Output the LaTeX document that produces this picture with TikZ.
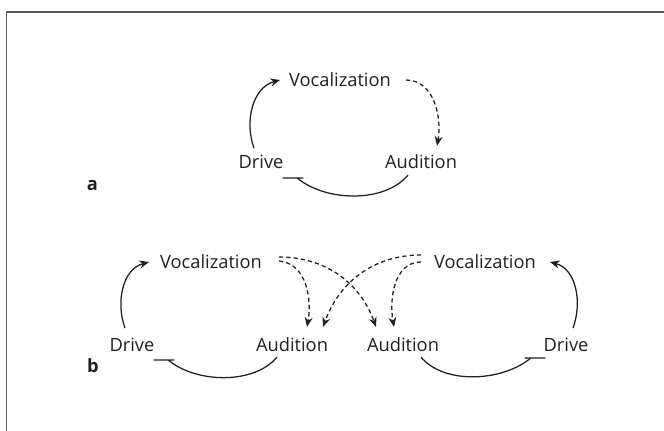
\documentclass[tikz,border=0pt]{standalone}
\usepackage{fontspec}
\setmainfont{Open Sans}
\usetikzlibrary{arrows.meta,positioning,calc}
\definecolor{inkgray}{HTML}{231F20}
\definecolor{framegray}{HTML}{5A5A5A}

\begin{document}
\begin{tikzpicture}[x=0.025cm,y=0.025cm,
  var/.style={inner sep=2pt,font=\fontsize{13}{15}\selectfont,text=inkgray},
  lbl/.style={anchor=base,font=\fontsize{13}{15}\selectfont\bfseries,text=inkgray},
  act/.style={draw=inkgray,line width=0.9pt,-{Stealth[length=2.4mm,width=2mm]}},
  fb/.style={act,dash pattern=on 3pt off 2.2pt},
  inh/.style={draw=inkgray,line width=0.9pt}
]
\useasboundingbox (0,0) rectangle (664,431);

% ---- Frame ---------------------------------------------------
\draw[framegray,line width=1.4pt] (6.5,0) -- (6.5,419) -- (664,419);

% ---- Panel a -------------------------------------------------
\node[var] (vocA)   at (340,351) {Vocalization};
\node[var] (driveA) at (261,269) {Drive};
\node[var] (audA)   at (421,269) {Audition};
\node[lbl] (labA)   at (92.5,240) {a};

\draw[act] ([xshift=-1.75mm,yshift=1mm]driveA.north) to[out=110,in=195] ([xshift=-1.5mm]vocA.west);
\draw[fb] ([xshift=3mm]vocA.east) to[out=0,in=80] ([xshift=4mm,yshift=1.5mm]audA.north);
\coordinate (barA) at ([xshift=8mm,yshift=-1.5mm]driveA.south);
\draw[inh] ([xshift=-3.25mm,yshift=-0.75mm]audA.south) to[out=-130,in=-40,looseness=0.85] ([xshift=1mm]barA)
  (barA) ++(-2.6mm,0) -- ++(5.2mm,0);

% ---- Panel b -------------------------------------------------
\node[var] (vocBL)   at (211,169) {Vocalization};
\node[var] (driveBL) at (132,86)  {Drive};
\node[var] (audBL)   at (292,86)  {Audition};
\node[var] (vocBR)   at (485,169) {Vocalization};
\node[var] (audBR)   at (403,86)  {Audition};
\node[var] (driveBR) at (566,86)  {Drive};
\node[lbl] (labB)    at (93,58)   {b};

% left loop
\draw[act] ([xshift=-1.75mm,yshift=1.75mm]driveBL.north) to[out=110,in=195] ([xshift=-2mm]vocBL.west);
\coordinate (barBL) at ([xshift=8mm,yshift=-1.25mm]driveBL.south);
\draw[inh] ([xshift=-3.75mm,yshift=-0.5mm]audBL.south) to[out=-130,in=-40,looseness=0.85] ([xshift=1mm]barBL)
  (barBL) ++(-2.6mm,0) -- ++(5.2mm,0);

% right loop
\draw[act] ([xshift=1.75mm,yshift=1.75mm]driveBR.north) to[out=70,in=-15] ([xshift=2.75mm]vocBR.east);
\coordinate (barBR) at ([xshift=-7.75mm,yshift=-0.75mm]driveBR.south);
\draw[inh] ([xshift=4.5mm,yshift=-0.5mm]audBR.south) to[out=-50,in=-140,looseness=0.85] ([xshift=-1mm]barBR)
  (barBR) ++(-2.6mm,0) -- ++(5.2mm,0);

% crossed auditory feedback
\draw[fb] ([xshift=3.5mm,yshift=0.25mm]vocBL.east) to[out=-5,in=80] ([xshift=3.75mm,yshift=2mm]audBL.north);
\draw[fb] ([xshift=3.5mm,yshift=1.25mm]vocBL.east) to[out=0,in=110] ([xshift=-6.75mm,yshift=2mm]audBR.north);
\draw[fb] ([xshift=-2.5mm,yshift=1.75mm]vocBR.west) to[out=180,in=70] ([xshift=7.75mm,yshift=2mm]audBL.north);
\draw[fb] ([xshift=-2.5mm]vocBR.west) to[out=180,in=100] ([xshift=-2.25mm,yshift=2mm]audBR.north);

\end{tikzpicture}
\end{document}
